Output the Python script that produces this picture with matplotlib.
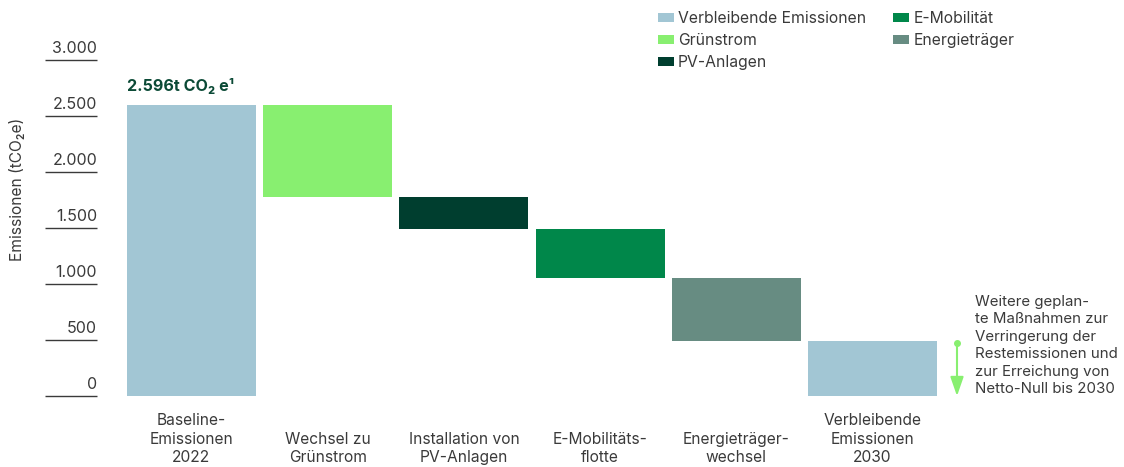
import matplotlib
matplotlib.use("Agg")
import matplotlib.pyplot as plt
from matplotlib.patches import Patch
from matplotlib.transforms import blended_transform_factory

plt.rcParams['font.family'] = ['Inter', 'DejaVu Sans']

# ---- data ----
categories = ["Baseline-\nEmissionen\n2022", "Wechsel zu\nGrünstrom",
              "Installation von\nPV-Anlagen", "E-Mobilitäts-\nflotte",
              "Energieträger-\nwechsel", "Verbleibende\nEmissionen\n2030"]
baseline_value = 2596
reductions = [816, 290, 440, 559]
series_names = ["Verbleibende Emissionen", "Grünstrom", "PV-Anlagen",
                "E-Mobilität", "Energieträger"]
colors = {"Verbleibende Emissionen": "#A2C6D4", "Grünstrom": "#88EF70",
          "PV-Anlagen": "#003E2F", "E-Mobilität": "#00874A",
          "Energieträger": "#678C82"}
bar_series = ["Verbleibende Emissionen", "Grünstrom", "PV-Anlagen",
              "E-Mobilität", "Energieträger", "Verbleibende Emissionen"]
yticks = [0, 500, 1000, 1500, 2000, 2500, 3000]
ytick_labels = ["0", "500", "1.000", "1.500", "2.000", "2.500", "3.000"]
top_label = "2.596t CO₂ e¹"
note = ("Weitere geplan-\nte Maßnahmen zur\nVerringerung der\n"
        "Restemissionen und\nzur Erreichung von\nNetto-Null bis 2030")
arrow_top = 473

# ---- compute waterfall ----
bottoms, heights = [0], [baseline_value]
level = baseline_value
for r in reductions:
    bottoms.append(level - r)
    heights.append(r)
    level -= r
bottoms.append(0)
heights.append(level)

W, H = 1124, 467
fig = plt.figure(figsize=(W / 100, H / 100), dpi=100)
ax_left_px, ax_bottom_px, ax_top_px = 45, 396, 60
ax = fig.add_axes([ax_left_px / W, (H - ax_bottom_px) / H,
                   (W - ax_left_px) / W, (ax_bottom_px - ax_top_px) / H])
c0, step = 191.5, 136.2
ax.set_xlim(-(c0 - ax_left_px) / step, (W - c0) / step)
ax.set_ylim(0, 3000)
ax.axis('off')

x = list(range(len(categories)))
ax.bar(x, heights, bottom=bottoms, width=129 / step,
       color=[colors[s] for s in bar_series], clip_on=False)

# y "ticks": short lines with labels above
bt = blended_transform_factory(ax.transAxes, ax.transData)
line_end = (97 - ax_left_px) / (W - ax_left_px)
for v, lab in zip(yticks, ytick_labels):
    ax.plot([0, line_end], [v, v], transform=bt, color='#3a3a3a', lw=1.0,
            clip_on=False, solid_capstyle='butt')
    ax.text(line_end, v + 65, lab, transform=bt, ha='right', va='baseline',
            fontsize=11.5, color='#3a3a3a')

fig.text(17 / W, 1 - 189 / H, "Emissionen (tCO₂e)", rotation=90,
         ha='center', va='center', fontsize=11.2, color='#3a3a3a')

# category labels
bt2 = blended_transform_factory(ax.transData, fig.transFigure)
for xi, cat in zip(x, categories):
    ax.text(xi, 2 / H, cat, transform=bt2, ha='center', va='bottom',
            fontsize=11.2, color='#3a3a3a', linespacing=1.28)

# top label
ax.text(x[0] - 0.5 * 129 / step, baseline_value + 130, top_label,
        ha='left', va='baseline', fontsize=11.6, fontweight='bold',
        color='#0B4A36')

# arrow + note
ax_x = (957 - c0) / step
ax.annotate('', xy=(ax_x, 0), xytext=(ax_x, arrow_top),
            arrowprops=dict(arrowstyle='-|>,head_length=1.15,head_width=0.4',
                            color='#88EF70', lw=1.5, shrinkA=0, shrinkB=0),
            annotation_clip=False)
ax.plot([ax_x], [arrow_top], 'o', ms=4, color='#88EF70', clip_on=False)
fig.text(975 / W, 1 - 345.5 / H, note, ha='left', va='center', fontsize=10.8,
         color='#3a3a3a', linespacing=1.32)

# legend
handles = [Patch(facecolor=colors[n], edgecolor='none', label=n)
           for n in series_names]
fig.legend(handles=handles, ncol=2, loc='upper left',
           bbox_to_anchor=(650 / W, 1 - 3 / H), frameon=False,
           fontsize=11.3, handlelength=1.02, handleheight=0.51,
           handletextpad=0.25, columnspacing=1.75, labelspacing=0.46,
           borderpad=0, labelcolor='#3a3a3a')

fig.savefig("out.png", dpi=100)
